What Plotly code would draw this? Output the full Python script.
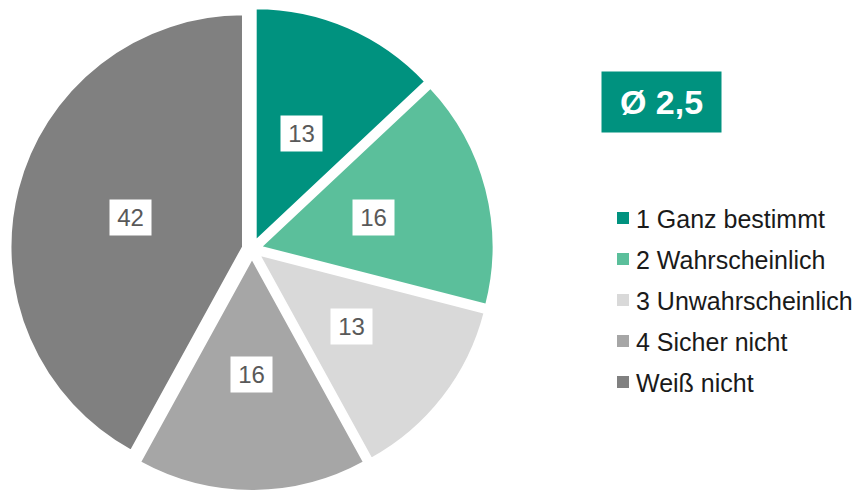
import math
import plotly.graph_objects as go

# Survey answers (percent)
categories = ["1 Ganz bestimmt", "2 Wahrscheinlich", "3 Unwahrscheinlich", "4 Sicher nicht", "Weiß nicht"]
values = [13, 16, 13, 16, 42]
colors = ["#00927f", "#5bbf9b", "#d9d9d9", "#a6a6a6", "#808080"]
average_label = "Ø 2,5"

W, H = 861, 491
PULL = 0.04
pie_right = 504 / W   # right edge of the pie domain (paper)
pie_top = 0.985       # top edge of the pie domain (paper)

fig = go.Figure(
    go.Pie(
        labels=categories,
        values=values,
        marker=dict(colors=colors, line=dict(color="white", width=2)),
        pull=[PULL] * len(values),
        sort=False,
        direction="clockwise",
        rotation=0,
        textinfo="none",
        hoverinfo="label+value",
        showlegend=False,
        domain=dict(x=[0, pie_right], y=[0, pie_top]),
    )
)

# Geometry of the pie in pixels, as plotly lays it out
dom_w, dom_h = pie_right * W, pie_top * H
cx, cy = dom_w / 2, H - dom_h / 2
R = min(dom_w, dom_h) / 2 / (1 + PULL)

annotations = []
total = sum(values)
cum = 0
for v in values:
    mid = (cum + v / 2) / total * 2 * math.pi
    cum += v
    r = R * (0.5 + PULL)
    px = cx + r * math.sin(mid)
    py = cy - r * math.cos(mid)
    annotations.append(dict(
        x=px / W, y=1 - py / H, xref="paper", yref="paper",
        xanchor="center", yanchor="middle",
        text=str(v), showarrow=False,
        font=dict(family="Arial, Liberation Sans", size=24, color="#595959"),
        bgcolor="white", borderpad=5, width=31, height=25,
    ))

# Average badge
annotations.append(dict(
    x=661.5 / W, y=1 - 102 / H, xref="paper", yref="paper",
    xanchor="center", yanchor="middle",
    text=f"<b>{average_label}</b>", showarrow=False,
    font=dict(family="Arial, Liberation Sans", size=34, color="white"),
    bgcolor="#00927f", width=119, height=60, borderpad=0,
))

# Custom legend
shapes = []
leg_y0, leg_dy = 218, 41
for i, (name, col) in enumerate(zip(categories, colors)):
    y = leg_y0 + i * leg_dy
    shapes.append(dict(
        type="rect", xref="paper", yref="paper",
        x0=617 / W, x1=629 / W, y0=1 - (y - 6) / H, y1=1 - (y + 6) / H,
        fillcolor=col, line=dict(width=0),
    ))
    annotations.append(dict(
        x=634 / W, y=1 - (y + 1) / H, xref="paper", yref="paper",
        xanchor="left", yanchor="middle",
        text=name, showarrow=False,
        font=dict(family="Arial, Liberation Sans", size=25, color="#1a1a1a"),
    ))

fig.update_layout(
    width=W, height=H,
    margin=dict(l=0, r=0, t=0, b=0),
    paper_bgcolor="white", plot_bgcolor="white",
    annotations=annotations, shapes=shapes,
)

fig.write_html("out.html")
